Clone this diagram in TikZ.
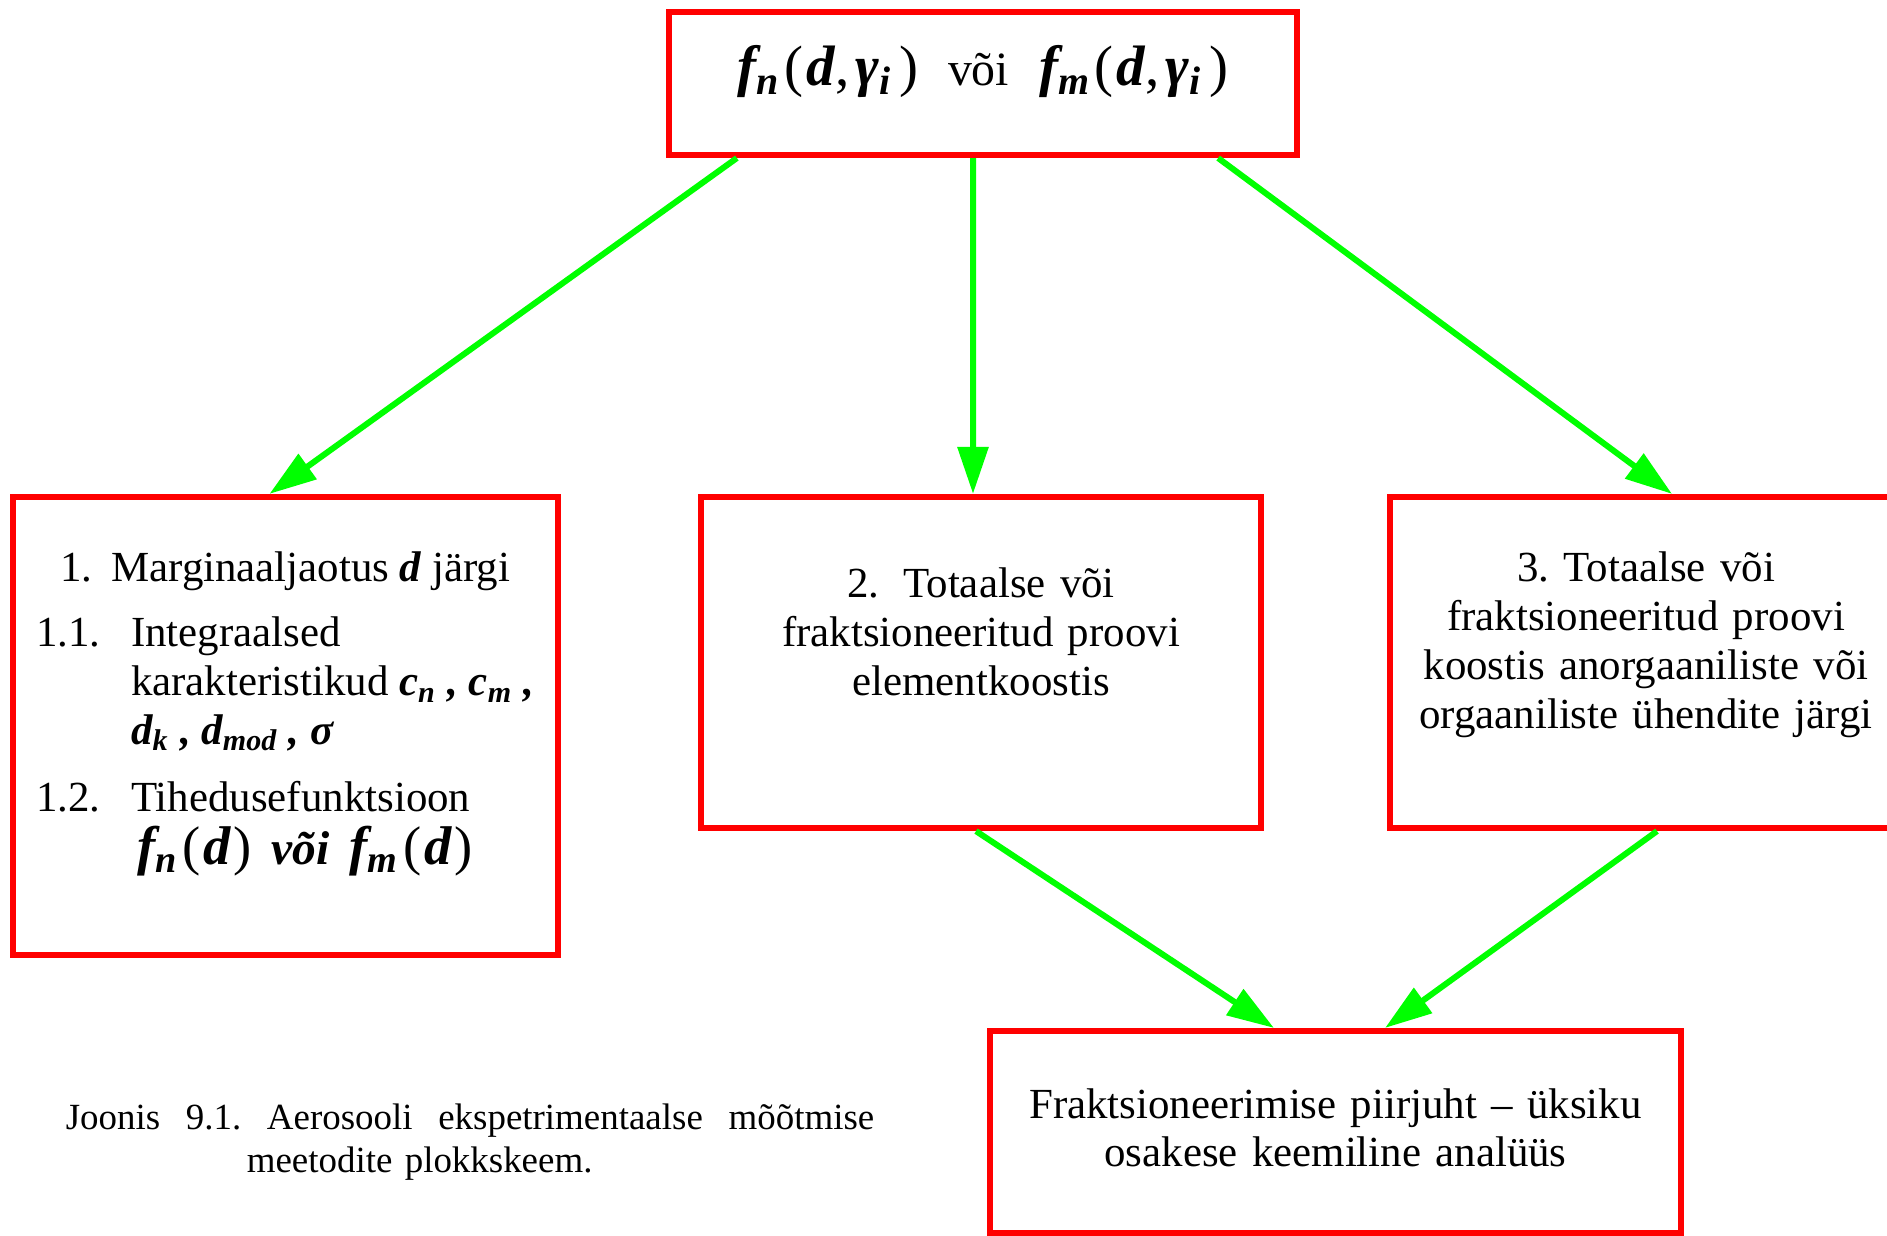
\documentclass[tikz,border=0pt]{standalone}
\usepackage{fontspec}
\setmainfont{Liberation Serif}
\usetikzlibrary{arrows.meta,positioning}
\newcommand{\bisym}[1]{{\bfseries\itshape #1}}
\newcommand{\fsub}[2]{\bisym{#1}\textsubscript{\bisym{#2}}\hspace{0.04cm}}
\tikzset{
  box/.style  = {draw=red, line width=0.06cm, rectangle, inner sep=0pt},
  txt/.style  = {inner sep=0pt, align=center, font={\fontsize{12.2}{13.9}\selectfont}},
  arr/.style  = {draw=green, line width=0.06cm, -{Triangle[length=0.47cm, width=0.30cm]}}
}
\begin{document}
\begin{tikzpicture}[x=0.01cm, y=-0.01cm]
\useasboundingbox (0,0) rectangle (1887,1235);

% the boxes
\node[box, minimum width=6.28cm, minimum height=1.43cm] (top) at (983,83.5) {};
\node[box, minimum width=5.44cm, minimum height=4.58cm] (marg) at (285.5,726) {};
\node[box, minimum width=5.60cm, minimum height=3.31cm] (elem) at (981,662.5) {};
\node[box, minimum width=5.12cm, minimum height=3.31cm] (koost) at (1646,662.5) {};
\node[box, minimum width=6.91cm, minimum height=2.02cm] (piir) at (1335.5,1132) {};

% texts of the boxes
\node[txt, font={\fontsize{16.2}{19}\selectfont}, anchor=base] (topt) at ([yshift=-0.76cm]top.north)
  {\fsub{f}{n}(\hspace{0.03cm}\bisym{d},\hspace{0.06cm}\fsub{γ}{i}\hspace{0.03cm})\hspace{0.3cm}{\fontsize{13.6}{16}\selectfont või}\hspace{0.3cm}\fsub{f}{m}(\hspace{0.03cm}\bisym{d},\hspace{0.06cm}\fsub{γ}{i}\hspace{0.03cm})};
\node[txt, align=left, anchor=base west] (margt) at ([xshift=0.25cm, yshift=-0.88cm]marg.north west)
  {\begin{tabular}[t]{@{}p{0.95cm}@{}l@{}}
   \multicolumn{2}{@{\hspace{0.24cm}}l@{}}{1.\hspace{0.19cm}Marginaaljaotus \bisym{d} järgi}\\[0.16cm]
   1.1. & Integraalsed\\
        & karakteristikud \bisym{c\textsubscript{n} ,} \bisym{c\textsubscript{m} ,}\\
        & \bisym{d\textsubscript{k} , d\textsubscript{mod} , σ}\\[0.18cm]
   1.2. & Tihedusefunktsioon\\
        & \hspace{0.06cm}{\fontsize{15.5}{17}\selectfont\fsub{f}{n}(\hspace{0.03cm}\bisym{d}\hspace{0.03cm})\hspace{0.2cm}{\fontsize{13.5}{16}\selectfont\bisym{või}}\hspace{0.2cm}\fsub{f}{m}(\hspace{0.03cm}\bisym{d}\hspace{0.03cm})}
   \end{tabular}};
\node[txt, text width=5.2cm, anchor=base] (elemt) at ([yshift=-1.04cm]elem.north)
  {2.\hspace{0.24cm}Totaalse või\\ fraktsioneeritud proovi\\ elementkoostis};
\node[txt, text width=5cm, anchor=base] (koostt) at ([yshift=-0.88cm]koost.north)
  {3.\ Totaalse või\\ fraktsioneeritud proovi\\ koostis anorgaaniliste või\\ orgaaniliste ühendite järgi};
\node[txt, text width=6.5cm, anchor=base] (piirt) at ([yshift=-0.90cm]piir.north)
  {Fraktsioneerimise piirjuht – üksiku\\ osakese keemiline analüüs};

% caption
\node[txt, font={\fontsize{10.5}{12.5}\selectfont}, text width=8.08cm, anchor=base] (joonis) at (470,1129)
  {\makebox[8.08cm]{Joonis\hfill 9.1.\hfill Aerosooli\hfill ekspetrimentaalse\hfill mõõtmise}\\
   \makebox[8.08cm][l]{\hspace{1.81cm}meetodite plokkskeem.}};

% the arrows
\draw[arr] ([xshift=0.71cm]top.south west) -- ([xshift=2.59cm]marg.north west);
\draw[arr] ([xshift=-0.10cm]top.south) -- ([xshift=-0.08cm]elem.north);
\draw[arr] ([xshift=-0.82cm]top.south east) -- ([xshift=2.85cm]koost.north west);
\draw[arr] ([xshift=-0.05cm]elem.south) -- ([xshift=2.87cm]piir.north west);
\draw[arr] ([xshift=2.70cm]koost.south west) -- ([xshift=3.98cm]piir.north west);
\end{tikzpicture}
\end{document}
